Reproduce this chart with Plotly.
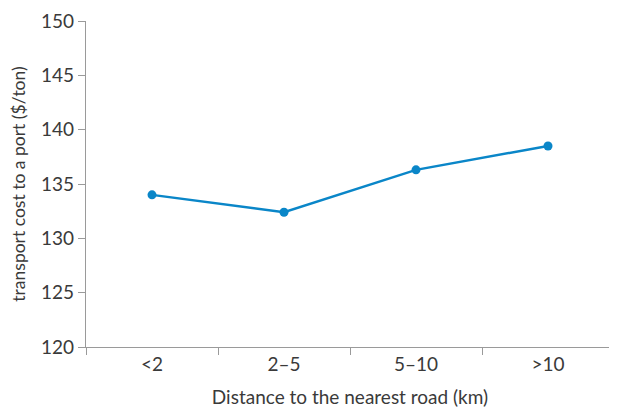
import plotly.graph_objects as go

categories = ["<2", "2–5", "5–10", ">10"]
cost = [134.0, 132.4, 136.3, 138.5]

fig = go.Figure()
fig.add_trace(go.Scatter(
    x=categories, y=cost, mode="lines+markers",
    line=dict(color="#0a86c8", width=2.5),
    marker=dict(color="#0a86c8", size=9),
    showlegend=False,
))

fam = "Lato, Open Sans, sans-serif"
tick_font = dict(family=fam, size=19, color="#3a3a3a")
xtitle_font = dict(family=fam, size=19, color="#3a3a3a")
ytitle_font = dict(family=fam, size=17.5, color="#3a3a3a")
fig.update_layout(
    width=609, height=406,
    margin=dict(l=78, r=3, t=13, b=67),
    paper_bgcolor="white", plot_bgcolor="white",
    font=tick_font,
    xaxis=dict(
        type="category", range=[-0.5, 3.5], automargin=False,
        showline=True, linecolor="#9a9a9a", linewidth=1.2,
        ticks="outside", tickson="boundaries", ticklen=7, tickcolor="#9a9a9a",
        showgrid=False, zeroline=False,
        tickfont=tick_font,
        title=dict(text="Distance to the nearest road (km)", font=xtitle_font, standoff=16),
    ),
    yaxis=dict(
        range=[120, 150], dtick=5, automargin=False,
        showline=True, linecolor="#9a9a9a", linewidth=1.2,
        ticks="outside", ticklen=7, tickcolor="#9a9a9a",
        showgrid=False, zeroline=False,
        tickfont=tick_font,
        title=dict(text="transport cost to a port ($/ton)", font=ytitle_font, standoff=14),
    ),
)

fig.write_html("out.html")
